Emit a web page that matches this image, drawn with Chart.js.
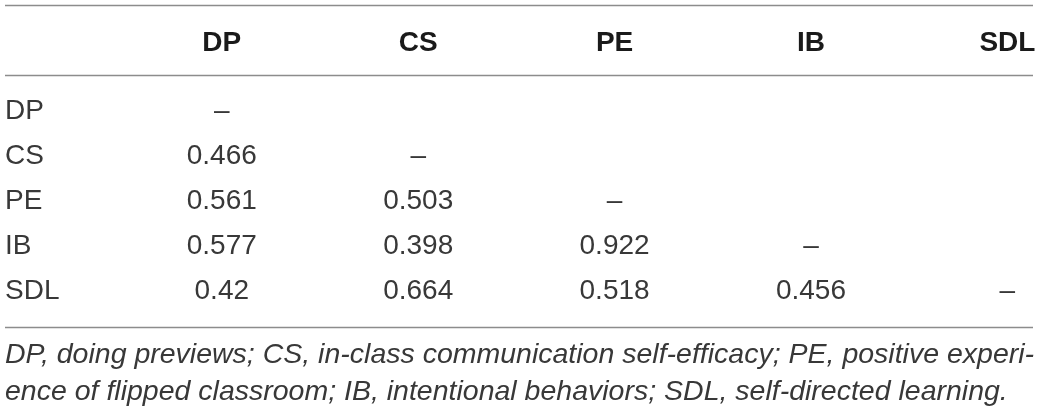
<!DOCTYPE html>
<html>
<head>
<meta charset="utf-8">
<script src="https://cdn.jsdelivr.net/npm/chart.js@4"></script>
<style>
  html, body { margin: 0; padding: 0; background: #fff; }
  canvas { display: block; }
</style>
</head>
<body>
<canvas id="table" width="1039" height="413"></canvas>
<script>
// correlation matrix, lower triangle, one array per row
const variables = ['DP', 'CS', 'PE', 'IB', 'SDL'];
const rowDP = [];
const rowCS = [0.466];
const rowPE = [0.561, 0.503];
const rowIB = [0.577, 0.398, 0.922];
const rowSDL = [0.42, 0.664, 0.518, 0.456];
const diagonalMark = '–';
const footnote = [
  'DP, doing previews; CS, in-class communication self-efficacy; PE, positive experi-',
  'ence of flipped classroom; IB, intentional behaviors; SDL, self-directed learning.'
];

const rows = [rowDP, rowCS, rowPE, rowIB, rowSDL];

// one scatter dataset per column, the point carries the cell text
const datasets = variables.map((col, c) => {
  const data = [];
  rows.forEach((vals, r) => {
    if (c < vals.length) data.push({ x: c + 1, y: r + 1, text: String(vals[c]) });
    else if (c === r) data.push({ x: c + 1, y: r + 1, text: diagonalMark });
  });
  return { label: col, data: data, pointRadius: 0, pointHoverRadius: 0 };
});

const FONT = '"Liberation Sans", Arial, Helvetica, sans-serif';

const tablePlugin = {
  id: 'tableText',
  afterDatasetsDraw(chart) {
    const ctx = chart.ctx;
    const x = chart.scales.x;
    const y = chart.scales.y;
    const left = chart.chartArea.left + 5;
    const right = chart.chartArea.right - 6;

    ctx.save();
    // rules
    ctx.strokeStyle = '#8c8c8c';
    ctx.lineWidth = 1.5;
    [-1.356, 0.2, 5.8].forEach(v => {
      const py = Math.round(y.getPixelForValue(v)) + 0.5;
      ctx.beginPath();
      ctx.moveTo(left, py);
      ctx.lineTo(right, py);
      ctx.stroke();
    });

    // header
    ctx.fillStyle = '#1a1a1a';
    ctx.font = 'bold 28px ' + FONT;
    ctx.textAlign = 'center';
    ctx.textBaseline = 'middle';
    variables.forEach((v, i) => {
      ctx.fillText(v, x.getPixelForValue(i + 1), y.getPixelForValue(-0.511));
    });

    // row labels
    ctx.fillStyle = '#383838';
    ctx.font = '28px ' + FONT;
    ctx.textAlign = 'left';
    variables.forEach((v, i) => {
      ctx.fillText(v, left, y.getPixelForValue(i + 1));
    });

    // cells
    ctx.textAlign = 'center';
    chart.data.datasets.forEach((ds, di) => {
      const meta = chart.getDatasetMeta(di);
      meta.data.forEach((pt, j) => {
        ctx.fillText(ds.data[j].text, pt.x, pt.y);
      });
    });

    // footnote
    ctx.font = 'italic 28.5px ' + FONT;
    ctx.textAlign = 'left';
    footnote.forEach((line, i) => {
      ctx.fillText(line, left, y.getPixelForValue(6.42 + i * 0.82));
    });
    ctx.restore();
  }
};

new Chart(document.getElementById('table'), {
  type: 'scatter',
  data: { datasets: datasets },
  options: {
    responsive: false,
    animation: false,
    events: [],
    layout: { padding: 0 },
    plugins: { legend: { display: false }, tooltip: { enabled: false } },
    scales: {
      x: { type: 'linear', display: false, min: -0.1293, max: 5.161 },
      y: { type: 'linear', display: false, reverse: true, min: -1.4667, max: 7.7111 }
    }
  },
  plugins: [tablePlugin]
});
</script>
</body>
</html>
